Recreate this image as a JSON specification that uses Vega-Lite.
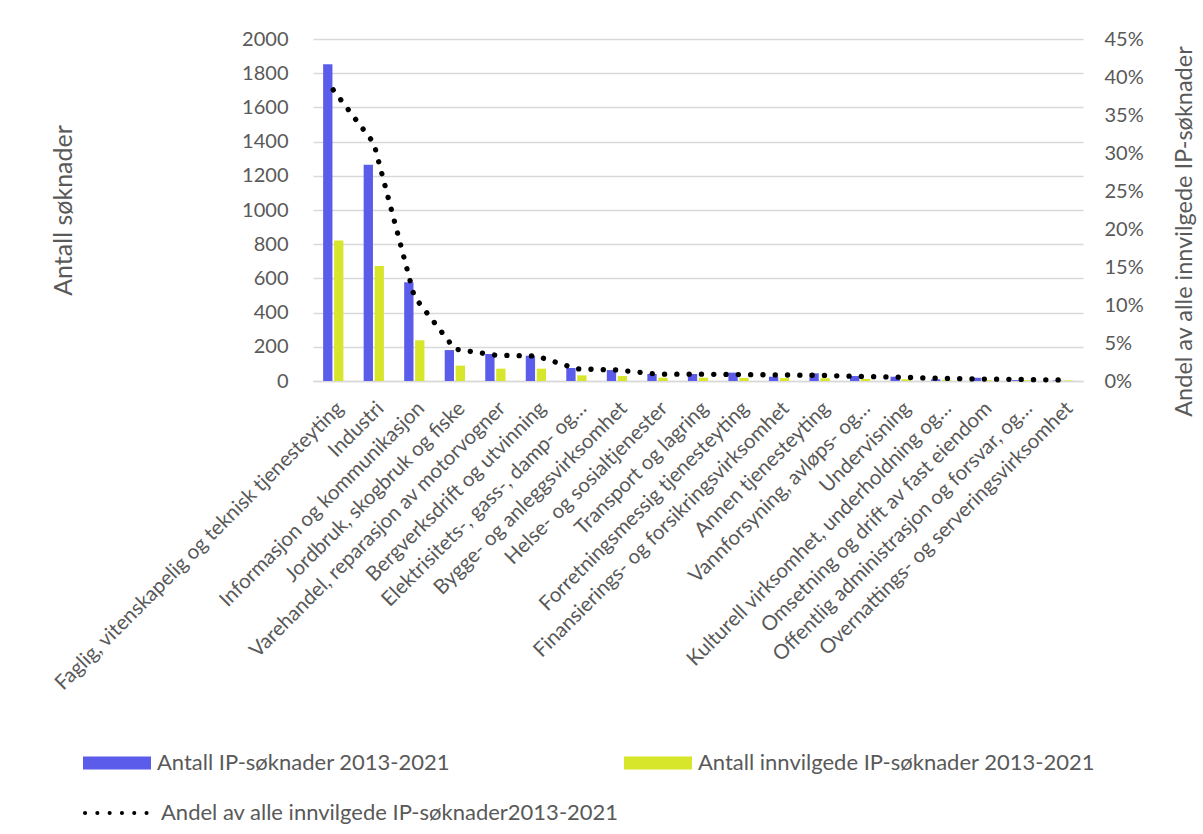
{
  "$schema": "https://vega.github.io/schema/vega-lite/v6.json",
  "width": 770,
  "height": 342,
  "autosize": {"type": "none"},
  "padding": {"left": 313, "top": 39, "right": 120, "bottom": 453},
  "background": "white",
  "config": {
    "font": "Lato",
    "view": {"stroke": null},
    "axis": {"labelColor": "#595959", "titleColor": "#595959", "labelFont": "Lato", "titleFont": "Lato", "titleFontWeight": "normal"},
    "legend": {"labelColor": "#595959", "labelFont": "Lato", "padding": 0}
  },
  "datasets": {
    "bars": [
      {"kategori": "Faglig, vitenskapelig og teknisk tjenesteyting", "serie": "Antall IP-søknader 2013-2021", "antall": 1852},
      {"kategori": "Faglig, vitenskapelig og teknisk tjenesteyting", "serie": "Antall innvilgede IP-søknader 2013-2021", "antall": 822},
      {"kategori": "Industri", "serie": "Antall IP-søknader 2013-2021", "antall": 1265},
      {"kategori": "Industri", "serie": "Antall innvilgede IP-søknader 2013-2021", "antall": 672},
      {"kategori": "Informasjon og kommunikasjon", "serie": "Antall IP-søknader 2013-2021", "antall": 577},
      {"kategori": "Informasjon og kommunikasjon", "serie": "Antall innvilgede IP-søknader 2013-2021", "antall": 238},
      {"kategori": "Jordbruk, skogbruk og fiske", "serie": "Antall IP-søknader 2013-2021", "antall": 181},
      {"kategori": "Jordbruk, skogbruk og fiske", "serie": "Antall innvilgede IP-søknader 2013-2021", "antall": 90},
      {"kategori": "Varehandel, reparasjon av motorvogner", "serie": "Antall IP-søknader 2013-2021", "antall": 158},
      {"kategori": "Varehandel, reparasjon av motorvogner", "serie": "Antall innvilgede IP-søknader 2013-2021", "antall": 72},
      {"kategori": "Bergverksdrift og utvinning", "serie": "Antall IP-søknader 2013-2021", "antall": 148},
      {"kategori": "Bergverksdrift og utvinning", "serie": "Antall innvilgede IP-søknader 2013-2021", "antall": 72},
      {"kategori": "Elektrisitets-, gass-, damp- og…", "serie": "Antall IP-søknader 2013-2021", "antall": 76},
      {"kategori": "Elektrisitets-, gass-, damp- og…", "serie": "Antall innvilgede IP-søknader 2013-2021", "antall": 33},
      {"kategori": "Bygge- og anleggsvirksomhet", "serie": "Antall IP-søknader 2013-2021", "antall": 64},
      {"kategori": "Bygge- og anleggsvirksomhet", "serie": "Antall innvilgede IP-søknader 2013-2021", "antall": 29},
      {"kategori": "Helse- og sosialtjenester", "serie": "Antall IP-søknader 2013-2021", "antall": 41},
      {"kategori": "Helse- og sosialtjenester", "serie": "Antall innvilgede IP-søknader 2013-2021", "antall": 19},
      {"kategori": "Transport og lagring", "serie": "Antall IP-søknader 2013-2021", "antall": 41},
      {"kategori": "Transport og lagring", "serie": "Antall innvilgede IP-søknader 2013-2021", "antall": 19},
      {"kategori": "Forretningsmessig tjenesteyting", "serie": "Antall IP-søknader 2013-2021", "antall": 49},
      {"kategori": "Forretningsmessig tjenesteyting", "serie": "Antall innvilgede IP-søknader 2013-2021", "antall": 18},
      {"kategori": "Finansierings- og forsikringsvirksomhet", "serie": "Antall IP-søknader 2013-2021", "antall": 25},
      {"kategori": "Finansierings- og forsikringsvirksomhet", "serie": "Antall innvilgede IP-søknader 2013-2021", "antall": 17},
      {"kategori": "Annen tjenesteyting", "serie": "Antall IP-søknader 2013-2021", "antall": 45},
      {"kategori": "Annen tjenesteyting", "serie": "Antall innvilgede IP-søknader 2013-2021", "antall": 16},
      {"kategori": "Vannforsyning, avløps- og…", "serie": "Antall IP-søknader 2013-2021", "antall": 29},
      {"kategori": "Vannforsyning, avløps- og…", "serie": "Antall innvilgede IP-søknader 2013-2021", "antall": 12},
      {"kategori": "Undervisning", "serie": "Antall IP-søknader 2013-2021", "antall": 25},
      {"kategori": "Undervisning", "serie": "Antall innvilgede IP-søknader 2013-2021", "antall": 10},
      {"kategori": "Kulturell virksomhet, underholdning og…", "serie": "Antall IP-søknader 2013-2021", "antall": 10},
      {"kategori": "Kulturell virksomhet, underholdning og…", "serie": "Antall innvilgede IP-søknader 2013-2021", "antall": 7},
      {"kategori": "Omsetning og drift av fast eiendom", "serie": "Antall IP-søknader 2013-2021", "antall": 19},
      {"kategori": "Omsetning og drift av fast eiendom", "serie": "Antall innvilgede IP-søknader 2013-2021", "antall": 5},
      {"kategori": "Offentlig administrasjon og forsvar, og…", "serie": "Antall IP-søknader 2013-2021", "antall": 5},
      {"kategori": "Offentlig administrasjon og forsvar, og…", "serie": "Antall innvilgede IP-søknader 2013-2021", "antall": 4},
      {"kategori": "Overnattings- og serveringsvirksomhet", "serie": "Antall IP-søknader 2013-2021", "antall": 3},
      {"kategori": "Overnattings- og serveringsvirksomhet", "serie": "Antall innvilgede IP-søknader 2013-2021", "antall": 3}
    ],
    "line": [
      {"kategori": "Faglig, vitenskapelig og teknisk tjenesteyting", "andel": 0.383},
      {"kategori": "Industri", "andel": 0.313},
      {"kategori": "Informasjon og kommunikasjon", "andel": 0.111},
      {"kategori": "Jordbruk, skogbruk og fiske", "andel": 0.042},
      {"kategori": "Varehandel, reparasjon av motorvogner", "andel": 0.034},
      {"kategori": "Bergverksdrift og utvinning", "andel": 0.033},
      {"kategori": "Elektrisitets-, gass-, damp- og…", "andel": 0.016},
      {"kategori": "Bygge- og anleggsvirksomhet", "andel": 0.0145},
      {"kategori": "Helse- og sosialtjenester", "andel": 0.009},
      {"kategori": "Transport og lagring", "andel": 0.009},
      {"kategori": "Forretningsmessig tjenesteyting", "andel": 0.0085},
      {"kategori": "Finansierings- og forsikringsvirksomhet", "andel": 0.008},
      {"kategori": "Annen tjenesteyting", "andel": 0.0075},
      {"kategori": "Vannforsyning, avløps- og…", "andel": 0.006},
      {"kategori": "Undervisning", "andel": 0.005},
      {"kategori": "Kulturell virksomhet, underholdning og…", "andel": 0.0035},
      {"kategori": "Omsetning og drift av fast eiendom", "andel": 0.0026},
      {"kategori": "Offentlig administrasjon og forsvar, og…", "andel": 0.002},
      {"kategori": "Overnattings- og serveringsvirksomhet", "andel": 0.0013}
    ]
  },
  "layer": [
    {
      "data": {"name": "bars"},
      "mark": {"type": "bar"},
      "encoding": {
        "x": {
          "field": "kategori", "type": "nominal", "sort": null,
          "scale": {"paddingInner": 0.5, "paddingOuter": 0.25},
          "axis": {
            "title": null, "labelAngle": -45, "labelAlign": "right", "labelBaseline": "middle",
            "labelFontSize": 20.5, "labelLimit": 500, "labelPadding": 24, "labelOffset": 7,
            "ticks": false, "domainColor": "#d9d9d9", "domainWidth": 1.5, "grid": false
          }
        },
        "xOffset": {
          "field": "serie", "type": "nominal", "sort": null,
          "scale": {"domain": ["Antall IP-søknader 2013-2021", "Antall innvilgede IP-søknader 2013-2021"], "paddingInner": 0.15}
        },
        "y": {
          "field": "antall", "type": "quantitative",
          "scale": {"domain": [0, 2000]},
          "axis": {
            "title": "Antall søknader", "titleFontSize": 25, "titlePadding": 165, "format": "d",
            "values": [0, 200, 400, 600, 800, 1000, 1200, 1400, 1600, 1800, 2000],
            "labelFontSize": 20, "labelPadding": 25, "ticks": false, "domain": false,
            "grid": true, "gridColor": "#d9d9d9", "gridWidth": 1.3
          }
        },
        "color": {
          "field": "serie", "type": "nominal",
          "scale": {"domain": ["Antall IP-søknader 2013-2021", "Antall innvilgede IP-søknader 2013-2021"], "range": ["#5b5ce9", "#d7e62b"]},
          "legend": {
            "title": null, "orient": "none", "legendX": -230, "legendY": 690,
            "direction": "horizontal", "columns": 2, "columnPadding": 173,
            "symbolType": "M-1,-0.19H1V0.19H-1Z", "symbolSize": 4624, "symbolStrokeWidth": 0,
            "labelFontSize": 22, "labelOffset": 6, "labelLimit": 500
          }
        }
      }
    },
    {
      "data": {"name": "line"},
      "mark": {"type": "line", "stroke": "black", "strokeWidth": 5.3, "strokeCap": "round"},
      "encoding": {
        "x": {"field": "kategori", "type": "nominal", "sort": null},
        "y": {
          "field": "andel", "type": "quantitative",
          "scale": {"domain": [0, 0.45]},
          "axis": {
            "orient": "right", "title": "Andel av alle innvilgede IP-søknader", "titleFontSize": 23.5,
            "titleAngle": 270, "titleBaseline": "top", "titlePadding": 29, "titleY": 192,
            "values": [0, 0.05, 0.1, 0.15, 0.2, 0.25, 0.3, 0.35, 0.4, 0.45], "format": ".0%",
            "labelFontSize": 20, "labelPadding": 21, "ticks": false, "domain": false, "grid": false
          }
        },
        "strokeDash": {
          "datum": "Andel av alle innvilgede IP-søknader2013-2021",
          "scale": {"range": [[0.1, 12.2]]},
          "legend": {
            "title": null, "orient": "none", "legendX": -230, "legendY": 738,
            "symbolType": "stroke", "symbolSize": 4624, "symbolStrokeWidth": 4, "symbolStrokeColor": "black",
            "symbolDash": [0.1, 13], "labelFontSize": 22, "labelOffset": 6, "labelLimit": 500,
            "encode": {"symbols": {"update": {"strokeCap": {"value": "round"}, "strokeDash": {"value": [0.1, 13]}}}}
          }
        }
      }
    }
  ],
  "resolve": {"scale": {"y": "independent"}}
}
